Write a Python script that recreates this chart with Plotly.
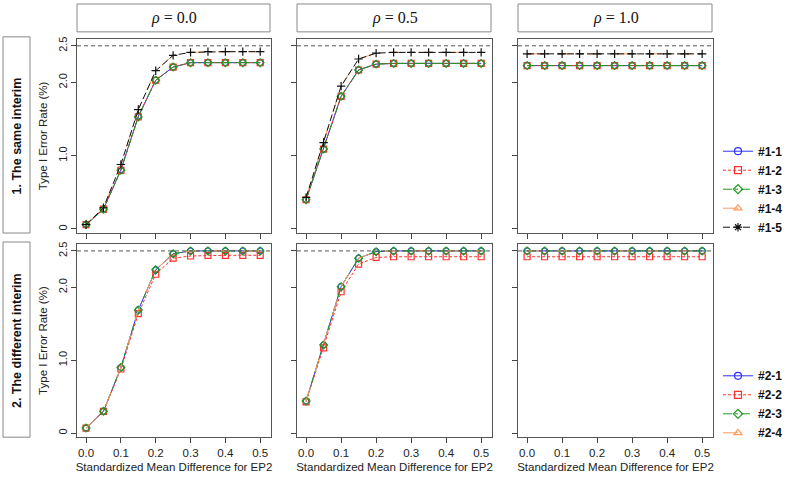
import plotly.graph_objects as go
from plotly.subplots import make_subplots

# ---------------- data ----------------
X = [0.0, 0.05, 0.1, 0.15, 0.2, 0.25, 0.3, 0.35, 0.4, 0.45, 0.5]
X_TICKS = [0.0, 0.1, 0.2, 0.3, 0.4, 0.5]
X_TICK_TEXT = ["0.0", "0.1", "0.2", "0.3", "0.4", "0.5"]
Y_TICKS = [0, 1.0, 2.0, 2.5]
Y_TICK_TEXT = ["0", "1.0", "2.0", "2.5"]
RHO_LABELS = ["0.0", "0.5", "1.0"]
ROW_LABELS = ["1. The same interim", "2. The different interim"]
NOMINAL = 2.5

# Design 1 (same interim): one list per rho (0.0, 0.5, 1.0)
S1_1 = [
    [0.06, 0.27, 0.81, 1.54, 2.03, 2.21, 2.27, 2.27, 2.27, 2.27, 2.27],
    [0.40, 1.09, 1.81, 2.17, 2.25, 2.26, 2.26, 2.26, 2.26, 2.26, 2.26],
    [2.23, 2.23, 2.23, 2.23, 2.23, 2.23, 2.23, 2.23, 2.23, 2.23, 2.23],
]
S1_2 = [
    [0.06, 0.27, 0.80, 1.53, 2.03, 2.21, 2.27, 2.27, 2.27, 2.27, 2.27],
    [0.40, 1.09, 1.81, 2.17, 2.25, 2.26, 2.26, 2.26, 2.26, 2.26, 2.26],
    [2.23, 2.23, 2.23, 2.23, 2.23, 2.23, 2.23, 2.23, 2.23, 2.23, 2.23],
]
S1_3 = [
    [0.06, 0.27, 0.80, 1.53, 2.03, 2.21, 2.27, 2.27, 2.27, 2.27, 2.27],
    [0.40, 1.09, 1.81, 2.17, 2.25, 2.26, 2.26, 2.26, 2.26, 2.26, 2.26],
    [2.23, 2.23, 2.23, 2.23, 2.23, 2.23, 2.23, 2.23, 2.23, 2.23, 2.23],
]
S1_4 = [
    [0.06, 0.29, 0.88, 1.63, 2.16, 2.37, 2.41, 2.42, 2.42, 2.42, 2.42],
    [0.43, 1.18, 1.95, 2.32, 2.40, 2.41, 2.41, 2.41, 2.41, 2.41, 2.41],
    [2.39, 2.39, 2.39, 2.39, 2.39, 2.39, 2.39, 2.39, 2.39, 2.39, 2.39],
]
S1_5 = [
    [0.06, 0.29, 0.88, 1.63, 2.16, 2.37, 2.41, 2.42, 2.42, 2.42, 2.42],
    [0.43, 1.18, 1.95, 2.32, 2.40, 2.41, 2.41, 2.41, 2.41, 2.41, 2.41],
    [2.39, 2.39, 2.39, 2.39, 2.39, 2.39, 2.39, 2.39, 2.39, 2.39, 2.39],
]

# Design 2 (different interim)
S2_1 = [
    [0.07, 0.30, 0.90, 1.69, 2.24, 2.46, 2.50, 2.50, 2.50, 2.50, 2.50],
    [0.44, 1.21, 2.01, 2.40, 2.49, 2.50, 2.50, 2.50, 2.50, 2.50, 2.50],
    [2.50, 2.50, 2.50, 2.50, 2.50, 2.50, 2.50, 2.50, 2.50, 2.50, 2.50],
]
S2_2 = [
    [0.07, 0.30, 0.88, 1.64, 2.18, 2.40, 2.43, 2.44, 2.44, 2.44, 2.44],
    [0.43, 1.17, 1.94, 2.32, 2.41, 2.42, 2.42, 2.42, 2.42, 2.42, 2.42],
    [2.42, 2.42, 2.42, 2.42, 2.42, 2.42, 2.42, 2.42, 2.42, 2.42, 2.42],
]
S2_3 = [
    [0.07, 0.30, 0.90, 1.69, 2.24, 2.46, 2.50, 2.50, 2.50, 2.50, 2.50],
    [0.44, 1.21, 2.01, 2.40, 2.49, 2.50, 2.50, 2.50, 2.50, 2.50, 2.50],
    [2.50, 2.50, 2.50, 2.50, 2.50, 2.50, 2.50, 2.50, 2.50, 2.50, 2.50],
]
S2_4 = [
    [0.07, 0.30, 0.90, 1.69, 2.24, 2.46, 2.50, 2.50, 2.50, 2.50, 2.50],
    [0.44, 1.21, 2.01, 2.40, 2.49, 2.50, 2.50, 2.50, 2.50, 2.50, 2.50],
    [2.50, 2.50, 2.50, 2.50, 2.50, 2.50, 2.50, 2.50, 2.50, 2.50, 2.50],
]

NAMES_1 = ["#1-1", "#1-2", "#1-3", "#1-4", "#1-5"]
NAMES_2 = ["#2-1", "#2-2", "#2-3", "#2-4"]

# ---------------- styles ----------------
BLUE, RED, GREEN, ORANGE, BLACK = "#3030ff", "#ff3030", "#1e9a1e", "#ff9a5c", "#111111"
STYLE_1 = [
    dict(color=BLUE, dash="solid", symbol="circle-open", plot_mode="lines+markers"),
    dict(color=RED, dash="3px,2px", symbol="square-open", plot_mode="lines+markers"),
    dict(color=GREEN, dash="dashdot", symbol="diamond-open", plot_mode="lines+markers"),
    dict(color=ORANGE, dash="longdash", symbol="triangle-up-open", plot_mode="lines"),
    dict(color=BLACK, dash="7px,3px", symbol="cross-thin-open", plot_mode="lines+markers",
         legend_symbol="asterisk-open"),
]
STYLE_2 = [
    dict(color=BLUE, dash="solid", symbol="circle-open", plot_mode="lines+markers"),
    dict(color=RED, dash="3px,2px", symbol="square-open", plot_mode="lines+markers"),
    dict(color=GREEN, dash="dashdot", symbol="diamond-open", plot_mode="lines+markers"),
    dict(color=ORANGE, dash="longdash", symbol="triangle-up-open", plot_mode="lines"),
]

W, H = 800, 477
def px_x(p):
    return p / W
def px_y(p):
    return 1 - p / H

COL_PX = [(77, 271), (297, 492), (518, 713)]
ROW_PX = [(37, 232), (243, 437)]

fig = make_subplots(rows=2, cols=3)

designs = [(S1_1, S1_2, S1_3, S1_4, S1_5), (S2_1, S2_2, S2_3, S2_4)]
names = [NAMES_1, NAMES_2]
styles = [STYLE_1, STYLE_2]

for r in range(2):
    for c in range(3):
        for s_idx, series in enumerate(designs[r]):
            st = styles[r][s_idx]
            fig.add_trace(
                go.Scatter(
                    x=X, y=series[c], mode=st["plot_mode"], showlegend=False,
                    line=dict(color=st["color"], width=1, dash=st["dash"]),
                    marker=dict(symbol=st["symbol"], size=6, color=st["color"],
                                line=dict(width=1.2, color=st["color"])),
                    hoverinfo="skip",
                ),
                row=r + 1, col=c + 1,
            )

# legend-only entries
for r in range(2):
    for s_idx, nm in enumerate(names[r]):
        st = styles[r][s_idx]
        fig.add_trace(
            go.Scatter(
                x=[None], y=[None], mode="lines+markers", name=nm,
                legend="legend" if r == 0 else "legend2",
                line=dict(color=st["color"], width=1, dash=st["dash"]),
                marker=dict(symbol=st.get("legend_symbol", st["symbol"]), size=7,
                            color=st["color"], line=dict(width=1.2, color=st["color"])),
            ),
            row=1, col=1,
        )

axis_font = dict(family="Liberation Sans, Arial, sans-serif", size=11.5, color="#222")
for r in range(2):
    for c in range(3):
        idx = r * 3 + c + 1
        xa = "xaxis" if idx == 1 else f"xaxis{idx}"
        ya = "yaxis" if idx == 1 else f"yaxis{idx}"
        x0, x1 = COL_PX[c]
        y0, y1 = ROW_PX[r]
        fig.layout[xa].update(
            domain=[px_x(x0), px_x(x1)], range=[-0.026, 0.531],
            tickvals=X_TICKS, ticktext=X_TICK_TEXT, showticklabels=(r == 1),
            ticks="outside", ticklen=5, tickcolor="#444", showgrid=False, zeroline=False,
            showline=True, linecolor="#555", linewidth=1, mirror=True,
            tickfont=axis_font,
            title=dict(text="Standardized Mean Difference for EP2" if r == 1 else "",
                       font=dict(family="Liberation Sans, Arial, sans-serif", size=11.5, color="#222"),
                       standoff=4),
        )
        fig.layout[ya].update(
            domain=[px_y(y1), px_y(y0)], range=[-0.055, 2.595],
            tickvals=Y_TICKS, ticktext=Y_TICK_TEXT, showticklabels=(c == 0),
            tickangle=270,
            ticks="outside", ticklen=5, tickcolor="#444", showgrid=False, zeroline=False,
            showline=True, linecolor="#555", linewidth=1, mirror=True,
            tickfont=dict(family="Liberation Sans, Arial, sans-serif", size=11, color="#222"),
            title=dict(text="Type I Error Rate (%)" if c == 0 else "",
                       font=dict(family="Liberation Sans, Arial, sans-serif", size=11.5, color="#222"),
                       standoff=6),
        )

# nominal alpha reference line
fig.add_hline(y=NOMINAL, line=dict(color="#555", width=1, dash="4px,3px"), row="all", col="all")

# strip headers
for c, lab in enumerate(RHO_LABELS):
    x0, x1 = COL_PX[c]
    fig.add_shape(type="rect", xref="paper", yref="paper",
                  x0=px_x(x0), x1=px_x(x1 - 1), y0=px_y(30), y1=px_y(2),
                  line=dict(color="#888", width=1), fillcolor="white")
    fig.add_annotation(xref="paper", yref="paper", x=px_x((x0 + x1) / 2), y=px_y(16),
                       xanchor="center", yanchor="middle",
                       text=f"<i>ρ</i> = {lab}", showarrow=False,
                       font=dict(family="Liberation Serif, DejaVu Serif, serif", size=16, color="#111"))
# row labels
for r, lab in enumerate(ROW_LABELS):
    y0, y1 = ROW_PX[r]
    fig.add_shape(type="rect", xref="paper", yref="paper",
                  x0=px_x(3), x1=px_x(30), y0=px_y(y1), y1=px_y(y0 - 2),
                  line=dict(color="#888", width=1), fillcolor="white")
    fig.add_annotation(xref="paper", yref="paper", x=px_x(16.5), y=px_y((y0 + y1) / 2),
                       xanchor="center", yanchor="middle",
                       text=f"<b>{lab}</b>", showarrow=False, textangle=-90,
                       font=dict(family="Liberation Sans, Arial, sans-serif", size=12.5, color="#111"))

legend_font = dict(family="Liberation Sans, Arial, sans-serif", size=12, color="#111", weight="bold")
fig.update_layout(
    width=W, height=H,
    margin=dict(l=0, r=0, t=0, b=0),
    paper_bgcolor="white", plot_bgcolor="white",
    legend=dict(x=px_x(718), y=px_y(188), xanchor="left", yanchor="middle",
                font=legend_font, bgcolor="rgba(0,0,0,0)", tracegroupgap=0,
                itemwidth=30, traceorder="normal"),
    legend2=dict(x=px_x(718), y=px_y(404), xanchor="left", yanchor="middle",
                 font=legend_font, bgcolor="rgba(0,0,0,0)", tracegroupgap=0,
                 itemwidth=30, traceorder="normal"),
)

fig.write_html("out.html", config={"displayModeBar": False},
               post_script="document.body.style.margin='0';document.body.style.overflow='hidden';")
